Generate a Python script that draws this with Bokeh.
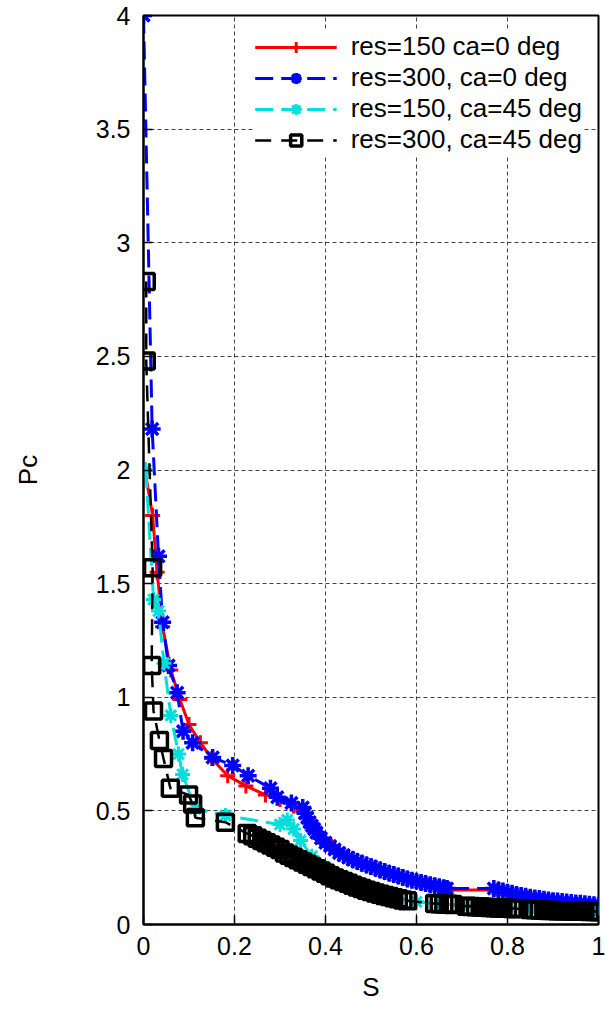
from bokeh.plotting import figure
from bokeh.models import Range1d, Legend, LegendItem, FixedTicker
from bokeh.embed import file_html
from bokeh.resources import INLINE

# ---------------- data ----------------
x_ticks = [0, 0.2, 0.4, 0.6, 0.8, 1]
x_tick_labels = ["0", "0.2", "0.4", "0.6", "0.8", "1"]
y_ticks = [0, 0.5, 1, 1.5, 2, 2.5, 3, 3.5, 4]
y_tick_labels = ["0", "0.5", "1", "1.5", "2", "2.5", "3", "3.5", "4"]

series_labels = ["res=150 ca=0 deg", "res=300, ca=0 deg",
                 "res=150, ca=45 deg", "res=300, ca=45 deg"]

# res=150, ca=0
s_red = [0.003, 0.020, 0.030, 0.042, 0.060, 0.080, 0.100, 0.125, 0.150, 0.185,
         0.225, 0.268, 0.300, 0.330, 0.350, 0.370, 0.400, 0.450, 0.500, 0.550,
         0.600, 0.640, 0.667, 0.770, 0.800, 0.850, 0.900, 0.950, 1.000]
pc_red = [2.00, 1.80, 1.55, 1.31, 1.12, 0.99, 0.88, 0.80, 0.73, 0.655,
          0.61, 0.57, 0.55, 0.52, 0.50, 0.44, 0.37, 0.30, 0.255, 0.22,
          0.19, 0.17, 0.152, 0.152, 0.14, 0.12, 0.105, 0.092, 0.082]

# res=300, ca=0
s_blue = [0.000, 0.019, 0.033, 0.042, 0.055, 0.074, 0.087, 0.108, 0.152, 0.196,
          0.230, 0.279, 0.294, 0.325, 0.350, 0.355, 0.360, 0.365, 0.370, 0.375,
          0.380, 0.390, 0.400, 0.410, 0.420, 0.430, 0.440, 0.450, 0.460, 0.470,
          0.480, 0.490, 0.500, 0.510, 0.520, 0.530, 0.540, 0.550, 0.560, 0.570,
          0.580, 0.590, 0.600, 0.610, 0.620, 0.630, 0.640, 0.650, 0.660, 0.667,
          0.770, 0.780, 0.790, 0.800, 0.810, 0.820, 0.830, 0.840, 0.850, 0.860,
          0.870, 0.880, 0.890, 0.900, 0.910, 0.920, 0.930, 0.940, 0.950, 0.960,
          0.970, 0.980, 0.990, 1.000]
pc_blue = [4.00, 2.18, 1.62, 1.33, 1.14, 1.02, 0.85, 0.80, 0.735, 0.70,
           0.655, 0.60, 0.56, 0.535, 0.515, 0.49, 0.47, 0.45, 0.435, 0.42,
           0.405, 0.38, 0.36, 0.345, 0.33, 0.315, 0.305, 0.295, 0.285, 0.277,
           0.27, 0.262, 0.255, 0.248, 0.24, 0.233, 0.226, 0.22, 0.213, 0.207,
           0.20, 0.195, 0.19, 0.185, 0.18, 0.175, 0.17, 0.166, 0.162, 0.158,
           0.158, 0.152, 0.147, 0.142, 0.137, 0.132, 0.128, 0.124, 0.12, 0.117,
           0.114, 0.111, 0.108, 0.105, 0.103, 0.101, 0.099, 0.097, 0.095, 0.093,
           0.091, 0.089, 0.087, 0.085]

# res=150, ca=45
s_cyan = [0.005, 0.022, 0.033, 0.045, 0.060, 0.077, 0.086, 0.114, 0.180,
          0.300, 0.316, 0.330, 0.345, 0.370, 0.400, 0.450, 0.500, 0.550, 0.600,
          0.650, 0.700, 0.750, 0.800, 0.850, 0.900, 0.950, 1.000]
pc_cyan = [2.00, 1.43, 1.38, 1.15, 0.92, 0.75, 0.66, 0.51, 0.48,
           0.44, 0.46, 0.42, 0.37, 0.30, 0.25, 0.19, 0.15, 0.12, 0.10,
           0.09, 0.085, 0.08, 0.075, 0.07, 0.065, 0.062, 0.06]

# res=300, ca=45
s_black = [0.006, 0.006, 0.020, 0.018, 0.022, 0.035, 0.044, 0.059, 0.099, 0.108,
           0.114, 0.180, 0.228,
           0.24, 0.25, 0.26, 0.27, 0.28, 0.29, 0.30, 0.31, 0.32, 0.33,
           0.34, 0.35, 0.36, 0.37, 0.38, 0.39, 0.40, 0.41, 0.42, 0.43,
           0.44, 0.45, 0.46, 0.47, 0.48, 0.49, 0.50, 0.51, 0.52, 0.53,
           0.54, 0.55, 0.56, 0.57, 0.58,
           0.64, 0.65, 0.66, 0.67, 0.68,
           0.71, 0.72, 0.73, 0.74, 0.75, 0.76, 0.77, 0.78, 0.79, 0.80, 0.81, 0.82,
           0.85, 0.86, 0.87, 0.88, 0.89, 0.90, 0.91, 0.92, 0.93, 0.94, 0.95, 0.96,
           0.97, 0.98, 0.99, 1.00]
pc_black = [2.83, 2.48, 1.57, 1.14, 0.94, 0.81, 0.73, 0.60, 0.57, 0.53,
            0.47, 0.45, 0.40,
            0.39, 0.38, 0.37, 0.36, 0.35, 0.34, 0.33, 0.315, 0.305, 0.295,
            0.285, 0.275, 0.265, 0.255, 0.245, 0.235, 0.225, 0.215, 0.205, 0.197,
            0.189, 0.181, 0.173, 0.165, 0.158, 0.151, 0.145, 0.139, 0.133, 0.128,
            0.123, 0.118, 0.113, 0.108, 0.104,
            0.092, 0.091, 0.090, 0.089, 0.088,
            0.080, 0.079, 0.078, 0.077, 0.076, 0.075, 0.074, 0.073, 0.072, 0.071, 0.070, 0.069,
            0.066, 0.065, 0.064, 0.063, 0.062, 0.062, 0.061, 0.060, 0.060, 0.059, 0.059, 0.058,
            0.058, 0.057, 0.057, 0.056]

assert len(s_red) == len(pc_red)
assert len(s_blue) == len(pc_blue)
assert len(s_cyan) == len(pc_cyan)
assert len(s_black) == len(pc_black)

# ---------------- figure ----------------
FONT = "Liberation Sans"

p = figure(width=605, height=1009, x_range=Range1d(0, 1), y_range=Range1d(0, 4),
           output_backend="svg", toolbar_location=None,
           min_border_left=143, min_border_right=7, min_border_top=15, min_border_bottom=85)

p.background_fill_color = "white"
p.border_fill_color = "white"
p.outline_line_color = "black"
p.outline_line_width = 2

for ax, ticks, labels in ((p.xaxis[0], x_ticks, x_tick_labels), (p.yaxis[0], y_ticks, y_tick_labels)):
    ax.ticker = FixedTicker(ticks=ticks)
    ax.major_label_overrides = {t: l for t, l in zip(ticks, labels)}
    ax.major_tick_in = 9
    ax.major_tick_out = 0
    ax.minor_tick_line_color = None
    ax.axis_line_width = 2
    ax.major_tick_line_width = 1.5
    ax.major_label_text_font = FONT
    ax.major_label_text_font_size = "25px"
    ax.major_label_text_color = "black"
    ax.axis_label_text_font = FONT
    ax.axis_label_text_font_size = "26px"
    ax.axis_label_text_font_style = "normal"
    ax.axis_label_text_color = "black"

p.xaxis.axis_label = "S"
p.yaxis.axis_label = "Pc"
p.xaxis.major_label_standoff = 12
p.yaxis.major_label_standoff = 13
p.xaxis.axis_label_standoff = 14
p.yaxis.axis_label_standoff = 50

p.xgrid.ticker = FixedTicker(ticks=x_ticks)
p.ygrid.ticker = FixedTicker(ticks=y_ticks)
for g in (p.xgrid[0], p.ygrid[0]):
    g.grid_line_color = "#222222"
    g.grid_line_dash = "4 3"
    g.grid_line_width = 1
    g.grid_line_alpha = 0.85

RED = "#ff0000"
BLUE = "#0000ff"
CYAN = "#00dede"
BLACK = "#000000"

r1l = p.line(s_red, pc_red, line_color=RED, line_width=3)
r1m = p.scatter(s_red, pc_red, marker="cross", size=15, line_color=RED, line_width=3)

r2l = p.line(s_blue, pc_blue, line_color=BLUE, line_width=3, line_dash="18 8")
r2m = p.scatter(s_blue, pc_blue, marker="asterisk", size=17, line_color=BLUE, line_width=3.5)

r3l = p.line(s_cyan, pc_cyan, line_color=CYAN, line_width=3, line_dash="18 8")
r3m = p.scatter(s_cyan, pc_cyan, marker="asterisk", size=15, line_color=CYAN, line_width=3)

r4l = p.line(s_black, pc_black, line_color=BLACK, line_width=2.5, line_dash="16 10")
r4m = p.scatter(s_black, pc_black, marker="square", size=16, line_color=BLACK,
                fill_color=None, line_width=3.5)

legend = Legend(items=[
    LegendItem(label=series_labels[0], renderers=[r1l, r1m]),
    LegendItem(label=series_labels[1], renderers=[r2l, r2m]),
    LegendItem(label=series_labels[2], renderers=[r3l, r3m]),
    LegendItem(label=series_labels[3], renderers=[r4l, r4m]),
], location="top_right")
legend.border_line_color = None
legend.background_fill_color = "white"
legend.background_fill_alpha = 1.0
legend.label_text_font = FONT
legend.label_text_font_size = "26px"
legend.label_text_color = "black"
legend.glyph_width = 82
legend.glyph_height = 28
legend.spacing = 0
legend.padding = 4
legend.margin = 16
legend.label_standoff = 14
p.add_layout(legend)

open("out.html", "w").write(file_html(p, INLINE))
